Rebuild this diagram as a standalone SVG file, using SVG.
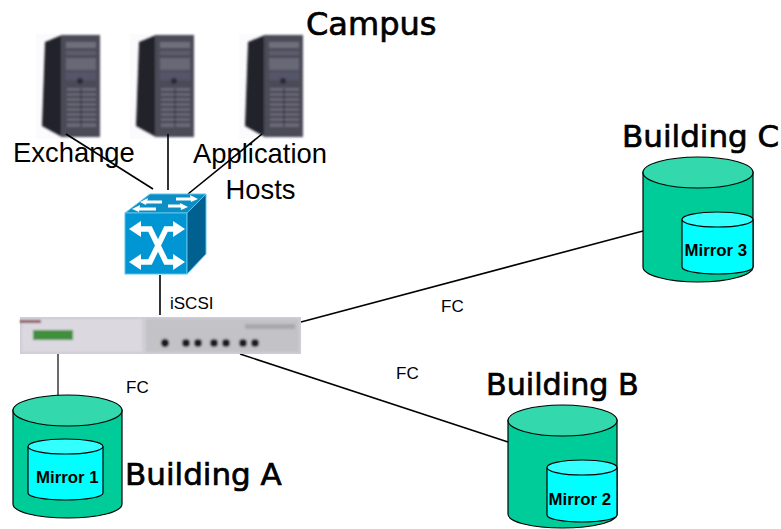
<svg xmlns="http://www.w3.org/2000/svg" width="781" height="529" viewBox="0 0 781 529">
<style>
.title{font-family:"DejaVu Sans",Verdana,sans-serif;font-size:31px;fill:#000;stroke:#000;stroke-width:.7}
.lab{font-family:"Liberation Sans",Arial,sans-serif;font-size:27.400px;fill:#000}
.sm{font-family:"Liberation Sans",Arial,sans-serif;font-size:17px;fill:#000}
.mir{font-family:"Liberation Sans",Arial,sans-serif;font-size:16.800px;font-weight:bold;fill:#000}
.link{stroke:#000;stroke-width:1.6;fill:none}
.body{fill:#00cc99;stroke:#000;stroke-width:1.2}
.top{fill:#33d9ac;stroke:#000;stroke-width:1.2}
.ibody{fill:#00ffff;stroke:#000;stroke-width:1.2}
.itop{fill:#33ffff;stroke:#000;stroke-width:1.2}
</style>
<defs>
<filter id="b" x="-10%" y="-10%" width="120%" height="120%"><feGaussianBlur stdDeviation="1.200"/></filter>
<filter id="b2" x="-5%" y="-20%" width="110%" height="140%"><feGaussianBlur stdDeviation="1.300"/></filter>
<g id="server">
<rect x="0" y="0" width="64" height="105" fill="#fbfafc"/>
<g filter="url(#b)">
<polygon points="9,8 26,1 64,1 64,103 26,103 6,92" fill="#22212b"/>
<rect x="25" y="1" width="39" height="102" fill="#4c4b59"/>
<rect x="30" y="8" width="30" height="6" fill="#6f6e7c"/>
<rect x="30" y="17" width="30" height="4" fill="#5f5e6c"/>
<rect x="30" y="24" width="30" height="12" fill="#696876"/>
<rect x="30" y="38" width="30" height="8" fill="#55546a"/>
<circle cx="44" cy="47" r="3" fill="#2a2933"/>
<rect x="31" y="54" width="29" height="39" fill="#6a6978"/>
<path d="M31 58H60M31 63H60M31 68H60M31 73H60M31 78H60M31 83H60M31 88H60" stroke="#34333e" stroke-width="1.500"/>
<path d="M45 54V93" stroke="#34333e" stroke-width="1"/>
</g>
</g>
</defs>
<g id="server-1"><use href="#server" x="36" y="34"/></g>
<g id="server-2"><use href="#server" x="130" y="34"/></g>
<g id="server-3"><use href="#server" x="239" y="34"/></g>
<g id="connectors">
<line class="link" x1="66" y1="134" x2="153" y2="189"/>
<line class="link" x1="168" y1="134" x2="168" y2="190"/>
<line class="link" x1="262" y1="134" x2="188" y2="194"/>
<line class="link" x1="160" y1="275" x2="160" y2="315"/>
<line class="link" x1="58" y1="354" x2="58" y2="396" style="stroke:#444"/>
<line class="link" x1="301" y1="322" x2="643" y2="231"/>
<line class="link" x1="240" y1="354" x2="508" y2="442"/>
</g>
<g id="switch">
<polygon points="125,213 187,213 206,194 150,194" fill="#0d8fc6" stroke="#5cc4ea" stroke-width="1"/>
<rect x="125" y="213" width="62" height="61" fill="#0095d3" stroke="#5cc4ea" stroke-width="1"/>
<polygon points="187,213 206,194 206,254 187,274" fill="#00608f" stroke="#5cc4ea" stroke-width="1"/>
<path d="M146 202H162M176 199H192M137 209H156M168 206H182" stroke="#fff" stroke-width="3" fill="none"/>
<path d="M148 198l-8 4 6 3zM190 195l8 4-7 3zM140 205l-8 4 7 3zM180 203l8 4-7 3z" fill="#fff"/>
<path d="M135 229H150L166 262H178M178 229H166L150 262H135" stroke="#fff" stroke-width="5.500" fill="none"/>
<path d="M141 221l-12 8 12 8zM173 221l12 8-12 8zM141 254l-12 8 12 8zM173 254l12 8-12 8z" fill="#fff"/>
</g>
<g id="router">
<rect x="20" y="317" width="281" height="37" fill="#d0cdd6"/>
<g filter="url(#b2)">
<rect x="22" y="319" width="120" height="33" fill="#dcd8e0"/>
<rect x="146" y="319" width="153" height="33" fill="#c3c2c6"/>
<rect x="20" y="320" width="21" height="3" fill="#8f5058"/>
<rect x="33" y="330" width="40" height="10" fill="#3f8f3c"/>
<g fill="#1c1c1e">
<circle cx="165" cy="343" r="4.200"/><circle cx="186" cy="343" r="4"/><circle cx="198" cy="343" r="4"/><circle cx="214" cy="343" r="4"/><circle cx="226" cy="343" r="4"/><circle cx="243" cy="343" r="4"/><circle cx="255" cy="343" r="4"/>
</g>
<rect x="245" y="324" width="50" height="5" fill="#a8a7ae"/>
</g>
</g>
<g id="disk-a">
<path class="body" d="M13 410V504C13 512 37 518 67.500 518S122 512 122 504V410Z"/>
<ellipse class="top" cx="67.500" cy="410.500" rx="54.500" ry="15.500"/>
<path class="ibody" d="M28 447V493C28 497 45 500 65.500 500S103 497 103 493V447Z"/>
<ellipse class="itop" cx="65.500" cy="446.500" rx="37.500" ry="7.500"/>
<text class="mir" x="36" y="483">Mirror 1</text>
</g>
<g id="disk-b">
<path class="body" d="M508 420V514C508 522 532 528 562.500 528S617 522 617 514V420Z"/>
<ellipse class="top" cx="562.500" cy="420.500" rx="54.500" ry="15.500"/>
<path class="ibody" d="M547 468V515C547 519 563 522 582 522S617 519 617 515V468Z"/>
<ellipse class="itop" cx="582" cy="467.500" rx="35" ry="7.500"/>
<text class="mir" x="548.500" y="505">Mirror 2</text>
</g>
<g id="disk-c">
<path class="body" d="M643 172V267C643 275 667 282 698 282S753 275 753 267V172Z"/>
<ellipse class="top" cx="698" cy="172.500" rx="55" ry="15.500"/>
<path class="ibody" d="M682 220V267C682 271 698 274 717.500 274S753 271 753 267V220Z"/>
<ellipse class="itop" cx="717.500" cy="219.500" rx="35.500" ry="7.500"/>
<text class="mir" x="684.500" y="256">Mirror 3</text>
</g>
<g id="labels">
<text class="title" x="306" y="35" style="font-size:32px">Campus</text>
<text class="title" x="622" y="147">Building C</text>
<text class="title" x="486" y="395" style="font-size:30.200px">Building B</text>
<text class="title" x="125" y="485">Building A</text>
<text class="lab" x="13" y="162">Exchange</text>
<text class="lab" x="193" y="163">Application</text>
<text class="lab" x="225.500" y="199">Hosts</text>
<text class="sm" x="170" y="309">iSCSI</text>
<text class="sm" x="126" y="393">FC</text>
<text class="sm" x="441" y="312">FC</text>
<text class="sm" x="396" y="379">FC</text>
</g>
</svg>
